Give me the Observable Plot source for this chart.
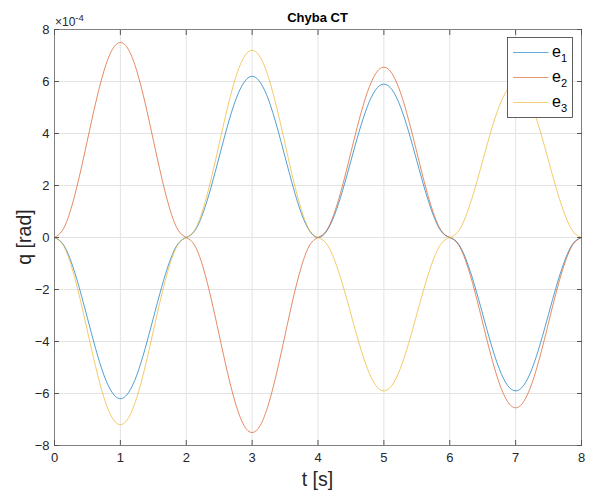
<!DOCTYPE html>
<html><head><meta charset="utf-8">
<script src="https://cdn.jsdelivr.net/npm/d3@7"></script>
<script src="https://cdn.jsdelivr.net/npm/@observablehq/plot@0.6"></script>
<style>body{margin:0;background:#fff;} svg{display:block}</style>
</head><body><div id="chart"></div>
<script>
// time samples [s]
const t = [0,0.125,0.25,0.375,0.5,0.625,0.75,0.875,1,1.125,1.25,1.375,1.5,1.625,1.75,1.875,
2,2.125,2.25,2.375,2.5,2.625,2.75,2.875,3,3.125,3.25,3.375,3.5,3.625,3.75,3.875,
4,4.125,4.25,4.375,4.5,4.625,4.75,4.875,5,5.125,5.25,5.375,5.5,5.625,5.75,5.875,
6,6.125,6.25,6.375,6.5,6.625,6.75,6.875,7,7.125,7.25,7.375,7.5,7.625,7.75,7.875,8];
// errors q [rad] in units of 1e-4
const e1 = [0,-0.24,-0.91,-1.92,-3.1,-4.28,-5.29,-5.96,-6.2,-5.96,-5.29,-4.28,-3.1,-1.92,-0.91,-0.24,
0,0.24,0.91,1.92,3.1,4.28,5.29,5.96,6.2,5.96,5.29,4.28,3.1,1.92,0.91,0.24,
0,0.22,0.86,1.82,2.95,4.08,5.04,5.68,5.9,5.68,5.04,4.08,2.95,1.82,0.86,0.22,
0,-0.22,-0.86,-1.82,-2.95,-4.08,-5.04,-5.68,-5.9,-5.68,-5.04,-4.08,-2.95,-1.82,-0.86,-0.22,0];
const e2 = [0,0.29,1.1,2.32,3.75,5.18,6.4,7.22,7.5,7.22,6.4,5.18,3.75,2.32,1.1,0.29,
0,-0.29,-1.1,-2.32,-3.75,-5.18,-6.4,-7.22,-7.5,-7.22,-6.4,-5.18,-3.75,-2.32,-1.1,-0.29,
0,0.25,0.96,2.02,3.28,4.53,5.59,6.3,6.55,6.3,5.59,4.53,3.28,2.02,0.96,0.25,
0,-0.25,-0.96,-2.02,-3.28,-4.53,-5.59,-6.3,-6.55,-6.3,-5.59,-4.53,-3.28,-2.02,-0.96,-0.25,0];
const e3 = [0,-0.27,-1.05,-2.22,-3.6,-4.98,-6.15,-6.93,-7.2,-6.93,-6.15,-4.98,-3.6,-2.22,-1.05,-0.27,
0,0.27,1.05,2.22,3.6,4.98,6.15,6.93,7.2,6.93,6.15,4.98,3.6,2.22,1.05,0.27,
0,-0.22,-0.86,-1.82,-2.95,-4.08,-5.04,-5.68,-5.9,-5.68,-5.04,-4.08,-2.95,-1.82,-0.86,-0.22,
0,0.22,0.86,1.82,2.95,4.08,5.04,5.68,5.9,5.68,5.04,4.08,2.95,1.82,0.86,0.22,0];
const seriesNames = ["e1","e2","e3"];
const seriesSubs = ["1","2","3"];
const colors = ["#0072BD","#D95319","#EDB120"];
const xTicks = [0,1,2,3,4,5,6,7,8];
const yTicks = [-8,-6,-4,-2,0,2,4,6,8];
const titleText = "Chyba CT";
const xLabel = "t [s]";
const yLabel = "q [rad]";

const series = [e1,e2,e3];
const data = [];
series.forEach((arr,k) => arr.forEach((v,i) => data.push({t:t[i], q:v, s:seriesNames[k]})));

const W=599, H=492, mL=54, mR=18, mT=29, mB=47;
const font = "'Liberation Sans', Arial, Helvetica, sans-serif";
const ink = "#262626";
const plot = Plot.plot({
  width:W, height:H, marginLeft:mL, marginRight:mR, marginTop:mT, marginBottom:mB,
  style:{fontFamily:font, fontSize:"13px", color:ink, background:"#fff"},
  x:{domain:[0,8]},
  y:{domain:[-8,8]},
  color:{domain:seriesNames, range:colors},
  marks:[
    Plot.gridX(xTicks,{stroke:"#e3e3e3", strokeOpacity:1}),
    Plot.gridY(yTicks,{stroke:"#e3e3e3", strokeOpacity:1}),
    Plot.lineY(data,{x:"t", y:"q", z:"s", stroke:"s", strokeWidth:0.8, strokeOpacity:0.85, curve:"natural"}),
    Plot.frame({stroke:"#808080"}),
    Plot.axisX(xTicks,{anchor:"bottom", tickSize:0, tickPadding:7, label:null, fill:ink}),
    Plot.axisX(xTicks,{anchor:"bottom", tickSize:-5, tickFormat:()=>"", label:null, stroke:"#555"}),
    Plot.axisX(xTicks,{anchor:"top", tickSize:-5, tickFormat:()=>"", label:null, stroke:"#555"}),
    Plot.axisY(yTicks,{anchor:"left", tickSize:0, tickPadding:5, label:null, fill:ink}),
    Plot.axisY(yTicks,{anchor:"left", tickSize:-5, tickFormat:()=>"", label:null, stroke:"#555"}),
    Plot.axisY(yTicks,{anchor:"right", tickSize:-5, tickFormat:()=>"", label:null, stroke:"#555"})
  ]
});
document.getElementById("chart").appendChild(plot);

const svg = d3.select(plot);
const cx = (mL + (W - mR)) / 2;
function txt(sel, size, weight, fill, anchor) {
  return sel.attr("text-anchor", anchor || "start").style("font-family", font).style("font-size", size + "px")
    .style("font-weight", weight || "normal").style("fill", fill || ink);
}
// title
txt(svg.append("text").attr("x", cx).attr("y", 22), 13, "bold", "#000", "middle").text(titleText);
// exponent
const ex = txt(svg.append("text").attr("x", 55).attr("y", 26), 12);
ex.append("tspan").text("\u00d710");
ex.append("tspan").attr("dy", -5).style("font-size", "9.5px").text("-4");
// axis labels
txt(svg.append("text").attr("x", cx).attr("y", 486), 19.5, "normal", ink, "middle").text(xLabel);
const cy = (mT + (H - mB)) / 2;
txt(svg.append("text").attr("transform", `translate(31,${cy}) rotate(-90)`), 19.5, "normal", ink, "middle").text(yLabel);
// legend
const lg = svg.append("g");
lg.append("rect").attr("x", 507.5).attr("y", 37.5).attr("width", 65).attr("height", 80)
  .attr("fill","#fff").attr("stroke","#3a3a3a").attr("stroke-width", 0.8);
seriesNames.forEach((n,i) => {
  const y = 52.5 + i*25;
  lg.append("line").attr("x1", 513).attr("x2", 548.5).attr("y1", y).attr("y2", y)
    .attr("stroke", colors[i]).attr("stroke-width", 1).attr("stroke-opacity", 0.6);
  const tx = txt(lg.append("text").attr("x", 552).attr("y", y + 4), 16, "normal", "#000");
  tx.append("tspan").text("e");
  tx.append("tspan").attr("dy", 5).style("font-size", "11px").text(seriesSubs[i]);
});
</script>
</body></html>
